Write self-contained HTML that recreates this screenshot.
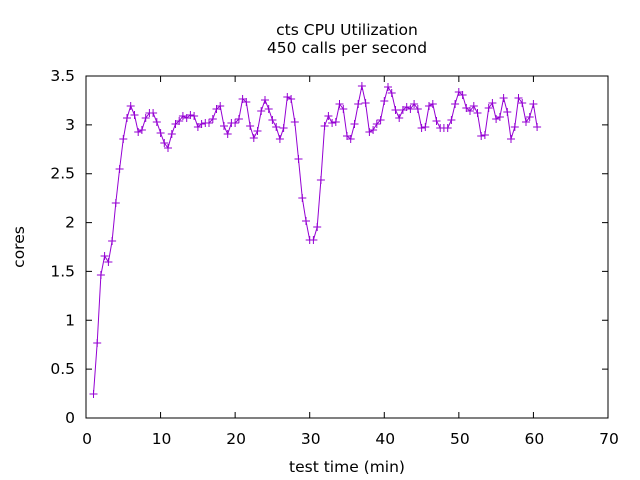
<!DOCTYPE html>
<html><head><meta charset="utf-8"><style>
html,body{margin:0;padding:0;background:#fff;}
svg{display:block;font-family:"DejaVu Sans",sans-serif;}
</style></head><body>
<svg id="s" width="640" height="480" xmlns="http://www.w3.org/2000/svg">
<rect width="640" height="480" fill="#fff"/>
<text x="347" y="35" font-size="15.5" text-anchor="middle">cts CPU Utilization</text>
<text x="347" y="53" font-size="15.5" text-anchor="middle">450 calls per second</text>
<text x="347" y="472" font-size="15.5" text-anchor="middle">test time (min)</text>
<text transform="translate(24,247) rotate(-90)" font-size="15.5" text-anchor="middle">cores</text>
<g id="ax" stroke="#000" stroke-width="1" fill="none"></g>
<g id="lb" font-size="15.5"></g>
<polyline id="pl" fill="none" stroke="#9400d3" stroke-width="1"/>
<path id="mk" fill="none" stroke="#9400d3" stroke-width="1"/>
<rect x="86" y="76" width="522" height="342" fill="none" stroke="#000" stroke-width="1"/>
</svg>
<script>
var NS="http://www.w3.org/2000/svg";
var ax=document.getElementById("ax"),lb=document.getElementById("lb");
function X(t){return 86+t*7.457;}
function Yv(v){return 418-v*97.71;}
var d="";
for(var i=0;i<=7;i++){var y=Yv(i*0.5);d+="M86 "+y+"h6M608 "+y+"h-6";
 var t=document.createElementNS(NS,"text");t.setAttribute("x",75);t.setAttribute("y",y+5);t.setAttribute("text-anchor","end");t.textContent=(i*0.5).toString();lb.appendChild(t);}
for(var i=0;i<=7;i++){var x=X(i*10);d+="M"+x+" 418v-6M"+x+" 76v6";
 var t=document.createElementNS(NS,"text");t.setAttribute("x",x+1);t.setAttribute("y",444);t.setAttribute("text-anchor","middle");t.textContent=(i*10).toString();lb.appendChild(t);}
var p=document.createElementNS(NS,"path");p.setAttribute("d",d);ax.appendChild(p);
var ys=[394,343,275,256,262,241,203,169,139,118,106,115,132,130,118,113,113,122,133,143,148,134,124,121,116,118,115,116,127,124,123,123,119,109,106,126,134,123,123,119,99,102,126,138,131,111,100,109,120,127,139,128,97,99,122,159,198,221,240,240,227,180,126,116,123,122,104,109,136,139,124,104,86,103,132,130,124,120,101,87,93,110,118,110,107,109,104,109,128,127,106,104,121,128,128,128,120,104,92,95,108,111,106,113,136,135,108,103,119,117,98,112,139,127,98,103,122,117,104,127];
var pts="",m="";
for(var i=0;i<ys.length;i++){var x=X(1+i*0.5),y=ys[i];pts+=x.toFixed(1)+","+y+" ";m+="M"+(x-4).toFixed(1)+" "+y+"h8M"+x.toFixed(1)+" "+(y-4)+"v8";}
document.getElementById("pl").setAttribute("points",pts);
document.getElementById("mk").setAttribute("d",m);
</script>
</body></html>
